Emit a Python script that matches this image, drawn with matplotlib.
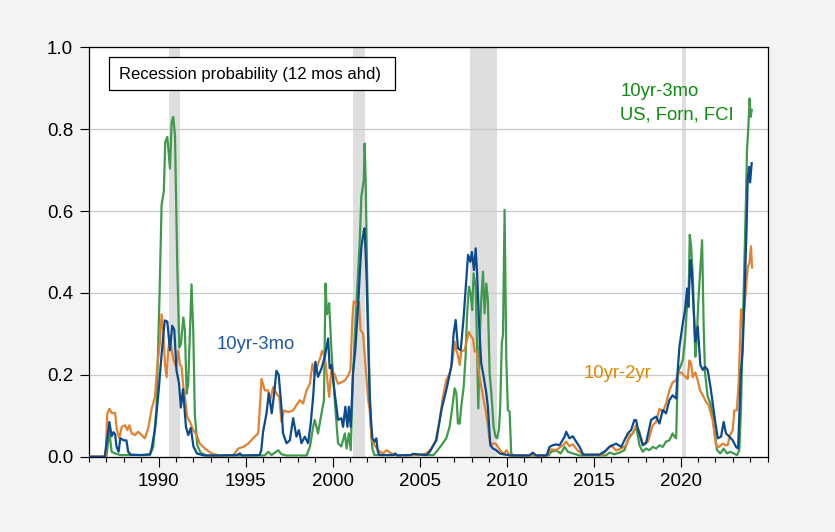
import matplotlib
matplotlib.use("Agg")
import matplotlib.pyplot as plt
from matplotlib.patches import Rectangle
from matplotlib.ticker import MultipleLocator

plt.rcParams['font.family'] = ['Liberation Sans', 'DejaVu Sans']

# ---- data (decimal years, probabilities) ----
recessions = [(1990.58, 1991.22), (2001.17, 2001.88), (2007.92, 2009.46), (2020.1, 2020.3)]

t_3mo = [1986.0, 1986.9, 1987.0, 1987.17, 1987.3, 1987.4, 1987.5, 1987.58, 1987.7, 1987.8,
         1988.0, 1988.15, 1988.25, 1988.4, 1989.0, 1989.5, 1989.6, 1989.8, 1990.0, 1990.17,
         1990.3, 1990.36, 1990.5, 1990.65, 1990.78, 1990.9, 1991.03, 1991.17, 1991.28, 1991.4,
         1991.57, 1991.7, 1991.85, 1992.0, 1992.2, 1992.6, 1993.5, 1994.5, 1994.67, 1994.8,
         1995.8, 1995.9, 1996.0, 1996.2, 1996.33, 1996.5, 1996.64, 1996.77, 1996.9, 1997.06,
         1997.15, 1997.35, 1997.54, 1997.73, 1997.92, 1998.06, 1998.21, 1998.4, 1998.59, 1998.74,
         1998.88, 1999.01, 1999.16, 1999.36, 1999.55, 1999.74, 1999.83, 1999.93, 2000.12, 2000.31,
         2000.5, 2000.6, 2000.73, 2000.85, 2000.93, 2001.04, 2001.17, 2001.3, 2001.46, 2001.56,
         2001.65, 2001.8, 2001.84, 2001.94, 2002.04, 2002.13, 2002.28, 2002.42, 2002.51, 2002.6,
         2002.7, 2003.5, 2003.6, 2003.7, 2004.5, 2004.6, 2005.4, 2005.58, 2005.96, 2006.25,
         2006.53, 2006.82, 2006.95, 2007.07, 2007.2, 2007.36, 2007.53, 2007.64, 2007.78, 2007.91,
         2008.0, 2008.12, 2008.22, 2008.3, 2008.41, 2008.54, 2008.68, 2008.83, 2008.92, 2009.06,
         2009.21, 2009.4, 2009.6, 2009.8, 2010.2, 2011.3, 2011.5, 2011.7, 2012.3, 2012.46,
         2012.65, 2012.85, 2013.04, 2013.33, 2013.42, 2013.61, 2013.8, 2013.99, 2014.19, 2014.4,
         2015.33, 2015.7, 2015.9, 2016.29, 2016.58, 2016.96, 2017.15, 2017.34, 2017.44, 2017.53,
         2017.82, 2018.01, 2018.3, 2018.59, 2018.78, 2018.97, 2019.16, 2019.35, 2019.54, 2019.74,
         2019.83, 2019.93, 2020.12, 2020.25, 2020.37, 2020.44, 2020.56, 2020.63, 2020.75, 2020.84,
         2020.98, 2021.13, 2021.27, 2021.4, 2021.55, 2021.71, 2021.84, 2021.97, 2022.13, 2022.32,
         2022.47, 2022.6, 2022.8, 2022.99, 2023.18, 2023.3, 2023.45, 2023.56, 2023.66, 2023.78,
         2023.85, 2023.93, 2023.99, 2024.08]
p_3mo = [0.0, 0.0, 0.03, 0.085, 0.05, 0.06, 0.055, 0.025, 0.012, 0.045,
         0.04, 0.04, 0.012, 0.005, 0.004, 0.006, 0.02, 0.07, 0.16, 0.25,
         0.31, 0.333, 0.33, 0.26, 0.32, 0.31, 0.21, 0.18, 0.12, 0.165,
         0.073, 0.053, 0.07, 0.025, 0.008, 0.003, 0.003, 0.004, 0.008, 0.003,
         0.004, 0.016, 0.06, 0.106, 0.155, 0.106, 0.155, 0.21, 0.2, 0.12,
         0.057, 0.033, 0.04, 0.094, 0.049, 0.065, 0.033, 0.049, 0.033, 0.081,
         0.147, 0.232, 0.195, 0.216, 0.244, 0.289, 0.216, 0.224, 0.155, 0.09,
         0.094, 0.073, 0.122, 0.073, 0.122, 0.073, 0.204, 0.26, 0.366, 0.448,
         0.513, 0.554, 0.558, 0.448, 0.285, 0.138, 0.045, 0.037, 0.045, 0.012,
         0.004, 0.004, 0.008, 0.003, 0.004, 0.007, 0.004, 0.012, 0.04, 0.114,
         0.163, 0.22, 0.3, 0.334, 0.265, 0.26, 0.342, 0.407, 0.493, 0.476,
         0.5, 0.456, 0.509, 0.448, 0.326, 0.228, 0.195, 0.155, 0.122, 0.028,
         0.02, 0.016, 0.008, 0.006, 0.003, 0.003, 0.01, 0.003, 0.003, 0.024,
         0.028, 0.03, 0.028, 0.049, 0.061, 0.045, 0.05, 0.037, 0.024, 0.005,
         0.005, 0.015, 0.024, 0.032, 0.024, 0.057, 0.065, 0.09, 0.089, 0.07,
         0.028, 0.033, 0.09, 0.098, 0.081, 0.114, 0.106, 0.138, 0.15, 0.142,
         0.212, 0.269, 0.326, 0.358, 0.411, 0.366, 0.48, 0.456, 0.358, 0.281,
         0.318, 0.224, 0.212, 0.22, 0.212, 0.171, 0.13, 0.09, 0.045, 0.049,
         0.085, 0.057, 0.049, 0.04, 0.024, 0.02, 0.2, 0.26, 0.38, 0.55,
         0.676, 0.708, 0.67, 0.717]

t_2yr = [1986.0, 1986.95, 1987.05, 1987.17, 1987.3, 1987.5, 1987.6, 1987.74, 1987.88, 1988.07,
         1988.2, 1988.32, 1988.45, 1988.64, 1988.83, 1989.02, 1989.21, 1989.4, 1989.6, 1989.79,
         1989.92, 1990.08, 1990.17, 1990.27, 1990.36, 1990.46, 1990.55, 1990.65, 1990.75, 1990.84,
         1991.0, 1991.13, 1991.22, 1991.32, 1991.42, 1991.51, 1991.64, 1991.8, 1991.99, 1992.18,
         1992.37, 1992.66, 1993.04, 1993.5, 1994.3, 1994.57, 1994.86, 1995.15, 1995.43, 1995.72,
         1995.82, 1995.91, 1996.1, 1996.3, 1996.39, 1996.58, 1996.77, 1996.93, 1997.06, 1997.2,
         1997.44, 1997.73, 1997.92, 1998.11, 1998.3, 1998.5, 1998.69, 1998.84, 1998.97, 1999.16,
         1999.3, 1999.4, 1999.55, 1999.68, 1999.8, 1999.93, 2000.12, 2000.31, 2000.5, 2000.7,
         2000.89, 2001.02, 2001.14, 2001.21, 2001.37, 2001.52, 2001.6, 2001.75, 2001.9, 2002.04,
         2002.13, 2002.23, 2002.42, 2002.61, 2002.9, 2003.09, 2003.38, 2003.7, 2005.0, 2005.38,
         2005.67, 2005.92, 2006.15, 2006.34, 2006.53, 2006.72, 2006.88, 2007.01, 2007.11, 2007.2,
         2007.3, 2007.39, 2007.58, 2007.72, 2007.83, 2007.97, 2008.06, 2008.16, 2008.29, 2008.41,
         2008.54, 2008.68, 2008.79, 2008.93, 2009.02, 2009.1, 2009.25, 2009.4, 2009.55, 2009.69,
         2009.88, 2009.98, 2010.17, 2012.3, 2012.56, 2012.85, 2013.23, 2013.42, 2013.6, 2013.8,
         2014.09, 2014.4, 2015.5, 2015.81, 2016.0, 2016.29, 2016.58, 2016.87, 2017.06, 2017.25,
         2017.44, 2017.63, 2017.82, 2018.11, 2018.4, 2018.59, 2018.78, 2018.97, 2019.16, 2019.35,
         2019.54, 2019.73, 2019.83, 2020.02, 2020.21, 2020.4, 2020.5, 2020.6, 2020.69, 2020.84,
         2020.98, 2021.11, 2021.27, 2021.46, 2021.61, 2021.74, 2021.84, 2022.03, 2022.22, 2022.41,
         2022.57, 2022.7, 2022.84, 2022.99, 2023.08, 2023.22, 2023.33, 2023.47, 2023.56, 2023.71,
         2023.85, 2023.95, 2024.04, 2024.1]
p_2yr = [0.0, 0.0, 0.105, 0.117, 0.107, 0.107, 0.065, 0.045, 0.073, 0.077,
         0.065, 0.077, 0.057, 0.053, 0.061, 0.053, 0.045, 0.069, 0.117, 0.146,
         0.219, 0.283, 0.348, 0.308, 0.227, 0.194, 0.259, 0.296, 0.259, 0.239,
         0.219, 0.259, 0.227, 0.219, 0.17, 0.146, 0.097, 0.085, 0.065, 0.053,
         0.032, 0.02, 0.008, 0.003, 0.004, 0.02, 0.024, 0.032, 0.045, 0.057,
         0.121, 0.19, 0.162, 0.162, 0.134, 0.17, 0.154, 0.146, 0.085, 0.113,
         0.109, 0.113, 0.126, 0.138, 0.13, 0.162, 0.178, 0.227, 0.2, 0.227,
         0.243, 0.259, 0.243, 0.194, 0.146, 0.215, 0.2, 0.178, 0.182, 0.186,
         0.198, 0.211, 0.34, 0.38, 0.372, 0.377, 0.31, 0.3, 0.216, 0.138,
         0.114, 0.045, 0.028, 0.016, 0.008, 0.016, 0.008, 0.004, 0.004, 0.008,
         0.02, 0.04, 0.09, 0.147, 0.187, 0.204, 0.232, 0.281, 0.26, 0.248,
         0.224, 0.257, 0.26, 0.285, 0.305, 0.293, 0.289, 0.257, 0.257, 0.204,
         0.171, 0.138, 0.114, 0.073, 0.04, 0.028, 0.033, 0.031, 0.02, 0.012,
         0.008, 0.016, 0.004, 0.003, 0.018, 0.016, 0.028, 0.037, 0.026, 0.03,
         0.015, 0.005, 0.005, 0.02, 0.028, 0.015, 0.02, 0.028, 0.053, 0.057,
         0.077, 0.061, 0.032, 0.036, 0.077, 0.085, 0.117, 0.109, 0.13, 0.162,
         0.182, 0.186, 0.202, 0.206, 0.198, 0.19, 0.235, 0.227, 0.194, 0.206,
         0.186, 0.162, 0.15, 0.134, 0.126, 0.105, 0.089, 0.028, 0.024, 0.032,
         0.028, 0.028, 0.053, 0.065, 0.113, 0.113, 0.178, 0.36, 0.316, 0.389,
         0.462, 0.474, 0.514, 0.462]

t_fci = [1986.0, 1987.0, 1987.08, 1987.17, 1987.3, 1987.5, 1987.8, 1989.5, 1989.69, 1989.88,
         1990.04, 1990.17, 1990.3, 1990.38, 1990.5, 1990.65, 1990.75, 1990.84, 1990.94, 1991.07,
         1991.19, 1991.28, 1991.42, 1991.51, 1991.61, 1991.7, 1991.8, 1991.89, 1991.99, 1992.08,
         1992.22, 1992.41, 1992.75, 1996.1, 1996.3, 1996.49, 1996.87, 1997.06, 1997.35, 1998.5,
         1998.7, 1998.88, 1998.97, 1999.16, 1999.36, 1999.5, 1999.59, 1999.67, 1999.74, 1999.8,
         1999.93, 2000.12, 2000.31, 2000.5, 2000.7, 2000.8, 2000.93, 2001.04, 2001.17, 2001.36,
         2001.56, 2001.65, 2001.79, 2001.84, 2001.9, 2001.98, 2002.09, 2002.19, 2002.28, 2002.4,
         2005.8, 2005.96, 2006.25, 2006.53, 2006.72, 2006.88, 2007.01, 2007.11, 2007.2, 2007.3,
         2007.39, 2007.53, 2007.64, 2007.72, 2007.83, 2007.93, 2008.02, 2008.1, 2008.22, 2008.29,
         2008.37, 2008.45, 2008.54, 2008.64, 2008.73, 2008.83, 2008.92, 2009.02, 2009.12, 2009.25,
         2009.36, 2009.46, 2009.56, 2009.63, 2009.72, 2009.79, 2009.88, 2009.98, 2010.07, 2010.17,
         2010.26, 2010.4, 2012.4, 2012.56, 2012.85, 2013.1, 2013.33, 2013.52, 2013.8, 2014.2,
         2015.7, 2015.91, 2016.2, 2016.48, 2016.77, 2016.96, 2017.15, 2017.25, 2017.44, 2017.63,
         2017.82, 2018.01, 2018.2, 2018.4, 2018.59, 2018.78, 2018.97, 2019.16, 2019.35, 2019.54,
         2019.64, 2019.74, 2019.83, 2019.98, 2020.12, 2020.25, 2020.37, 2020.44, 2020.52, 2020.6,
         2020.69, 2020.79, 2020.84, 2020.92, 2021.02, 2021.11, 2021.23, 2021.32, 2021.4, 2021.55,
         2021.71, 2021.84, 2021.97, 2022.09, 2022.28, 2022.47, 2022.66, 2022.85, 2023.05, 2023.24,
         2023.37, 2023.47, 2023.56, 2023.66, 2023.75, 2023.81, 2023.89, 2023.96, 2024.02, 2024.08]
p_fci = [0.0, 0.0, 0.03, 0.061, 0.012, 0.008, 0.004, 0.004, 0.024, 0.121,
         0.372, 0.615, 0.648, 0.769, 0.781, 0.704, 0.818, 0.83, 0.785, 0.47,
         0.267, 0.275, 0.34, 0.308, 0.154, 0.178, 0.308, 0.421, 0.308, 0.105,
         0.028, 0.01, 0.003, 0.003, 0.012, 0.004, 0.016, 0.006, 0.003, 0.003,
         0.025, 0.073, 0.09, 0.057, 0.106, 0.138, 0.423, 0.348, 0.358, 0.375,
         0.26, 0.138, 0.033, 0.025, 0.057, 0.02, 0.057, 0.016, 0.204, 0.366,
         0.53, 0.635, 0.676, 0.765, 0.668, 0.448, 0.236, 0.081, 0.02, 0.004,
         0.004, 0.012, 0.028, 0.045, 0.073, 0.122, 0.167, 0.155, 0.081, 0.081,
         0.122, 0.171, 0.244, 0.342, 0.415, 0.399, 0.358, 0.448, 0.415, 0.285,
         0.118, 0.285, 0.383, 0.452, 0.35, 0.423, 0.383, 0.204, 0.155, 0.073,
         0.049, 0.045, 0.069, 0.122, 0.277, 0.3, 0.603, 0.236, 0.114, 0.11,
         0.008, 0.003, 0.003, 0.012, 0.015, 0.008, 0.024, 0.012, 0.008, 0.003,
         0.003, 0.01, 0.006, 0.01, 0.016, 0.04, 0.053, 0.057, 0.075, 0.028,
         0.012, 0.02, 0.016, 0.024, 0.02, 0.028, 0.024, 0.037, 0.04, 0.057,
         0.049, 0.045, 0.204, 0.22, 0.236, 0.285, 0.375, 0.366, 0.542, 0.513,
         0.448, 0.309, 0.244, 0.285, 0.383, 0.448, 0.529, 0.318, 0.204, 0.147,
         0.13, 0.098, 0.053, 0.016, 0.008, 0.02, 0.008, 0.012, 0.008, 0.004,
         0.016, 0.122, 0.3, 0.472, 0.627, 0.749, 0.806, 0.875, 0.83, 0.847]

# ---- figure ----
fig = plt.figure(figsize=(8.35, 5.32), dpi=100, facecolor='#f3f3f3')
ax = fig.add_axes([0.1066, 0.1415, 0.8128, 0.7696])
ax.set_facecolor('white')

for start, end in recessions:
    ax.axvspan(start, end, color='#dedede', lw=0, zorder=0)

ax.plot(t_fci, p_fci, color='#3f9a4b', lw=1.6, zorder=3)
ax.plot(t_2yr, p_2yr, color='#e2812f', lw=1.6, zorder=3)
ax.plot(t_3mo, p_3mo, color='#0c4a8e', lw=1.6, zorder=3)

ax.set_xlim(1986, 2025)
ax.set_ylim(0, 1.0)
ax.set_xticks([1990, 1995, 2000, 2005, 2010, 2015, 2020])
ax.xaxis.set_minor_locator(MultipleLocator(1))
ax.set_yticks([0.0, 0.2, 0.4, 0.6, 0.8, 1.0])
ax.set_yticklabels(['0.0', '0.2', '0.4', '0.6', '0.8', '1.0'])
ax.tick_params(axis='both', which='major', direction='out', labelsize=13.5, width=0.8)
ax.tick_params(axis='x', which='major', length=7.5, pad=4)
ax.tick_params(axis='x', which='minor', direction='out', length=3.8, width=0.8)
ax.tick_params(axis='y', which='major', length=6.5, pad=5)
ax.grid(axis='y', color='#c8c8c8', lw=0.9, zorder=1)
for s in ax.spines.values():
    s.set_linewidth(0.9)
    s.set_color('black')

# title box
ax.add_patch(Rectangle((0.0299, 0.895), 0.4214, 0.0806, transform=ax.transAxes,
                       facecolor='white', edgecolor='black', lw=0.9, zorder=5))
ax.text(0.0446, 0.934, 'Recession probability (12 mos ahd)', transform=ax.transAxes,
        fontsize=12, va='center', ha='left', zorder=6)

# series labels
ax.text(1993.33, 0.273, '10yr-3mo', color='#1f56a8', fontsize=13.3, va='center', ha='left')
ax.text(2014.42, 0.204, '10yr-2yr', color='#dd8800', fontsize=13.3, va='center', ha='left')
ax.text(2016.54, 0.893, '10yr-3mo', color='#108a10', fontsize=13.3, va='center', ha='left')
ax.text(2016.54, 0.834, 'US, Forn, FCI', color='#108a10', fontsize=13.3, va='center', ha='left')

fig.savefig('out.png', dpi=100, facecolor=fig.get_facecolor())
